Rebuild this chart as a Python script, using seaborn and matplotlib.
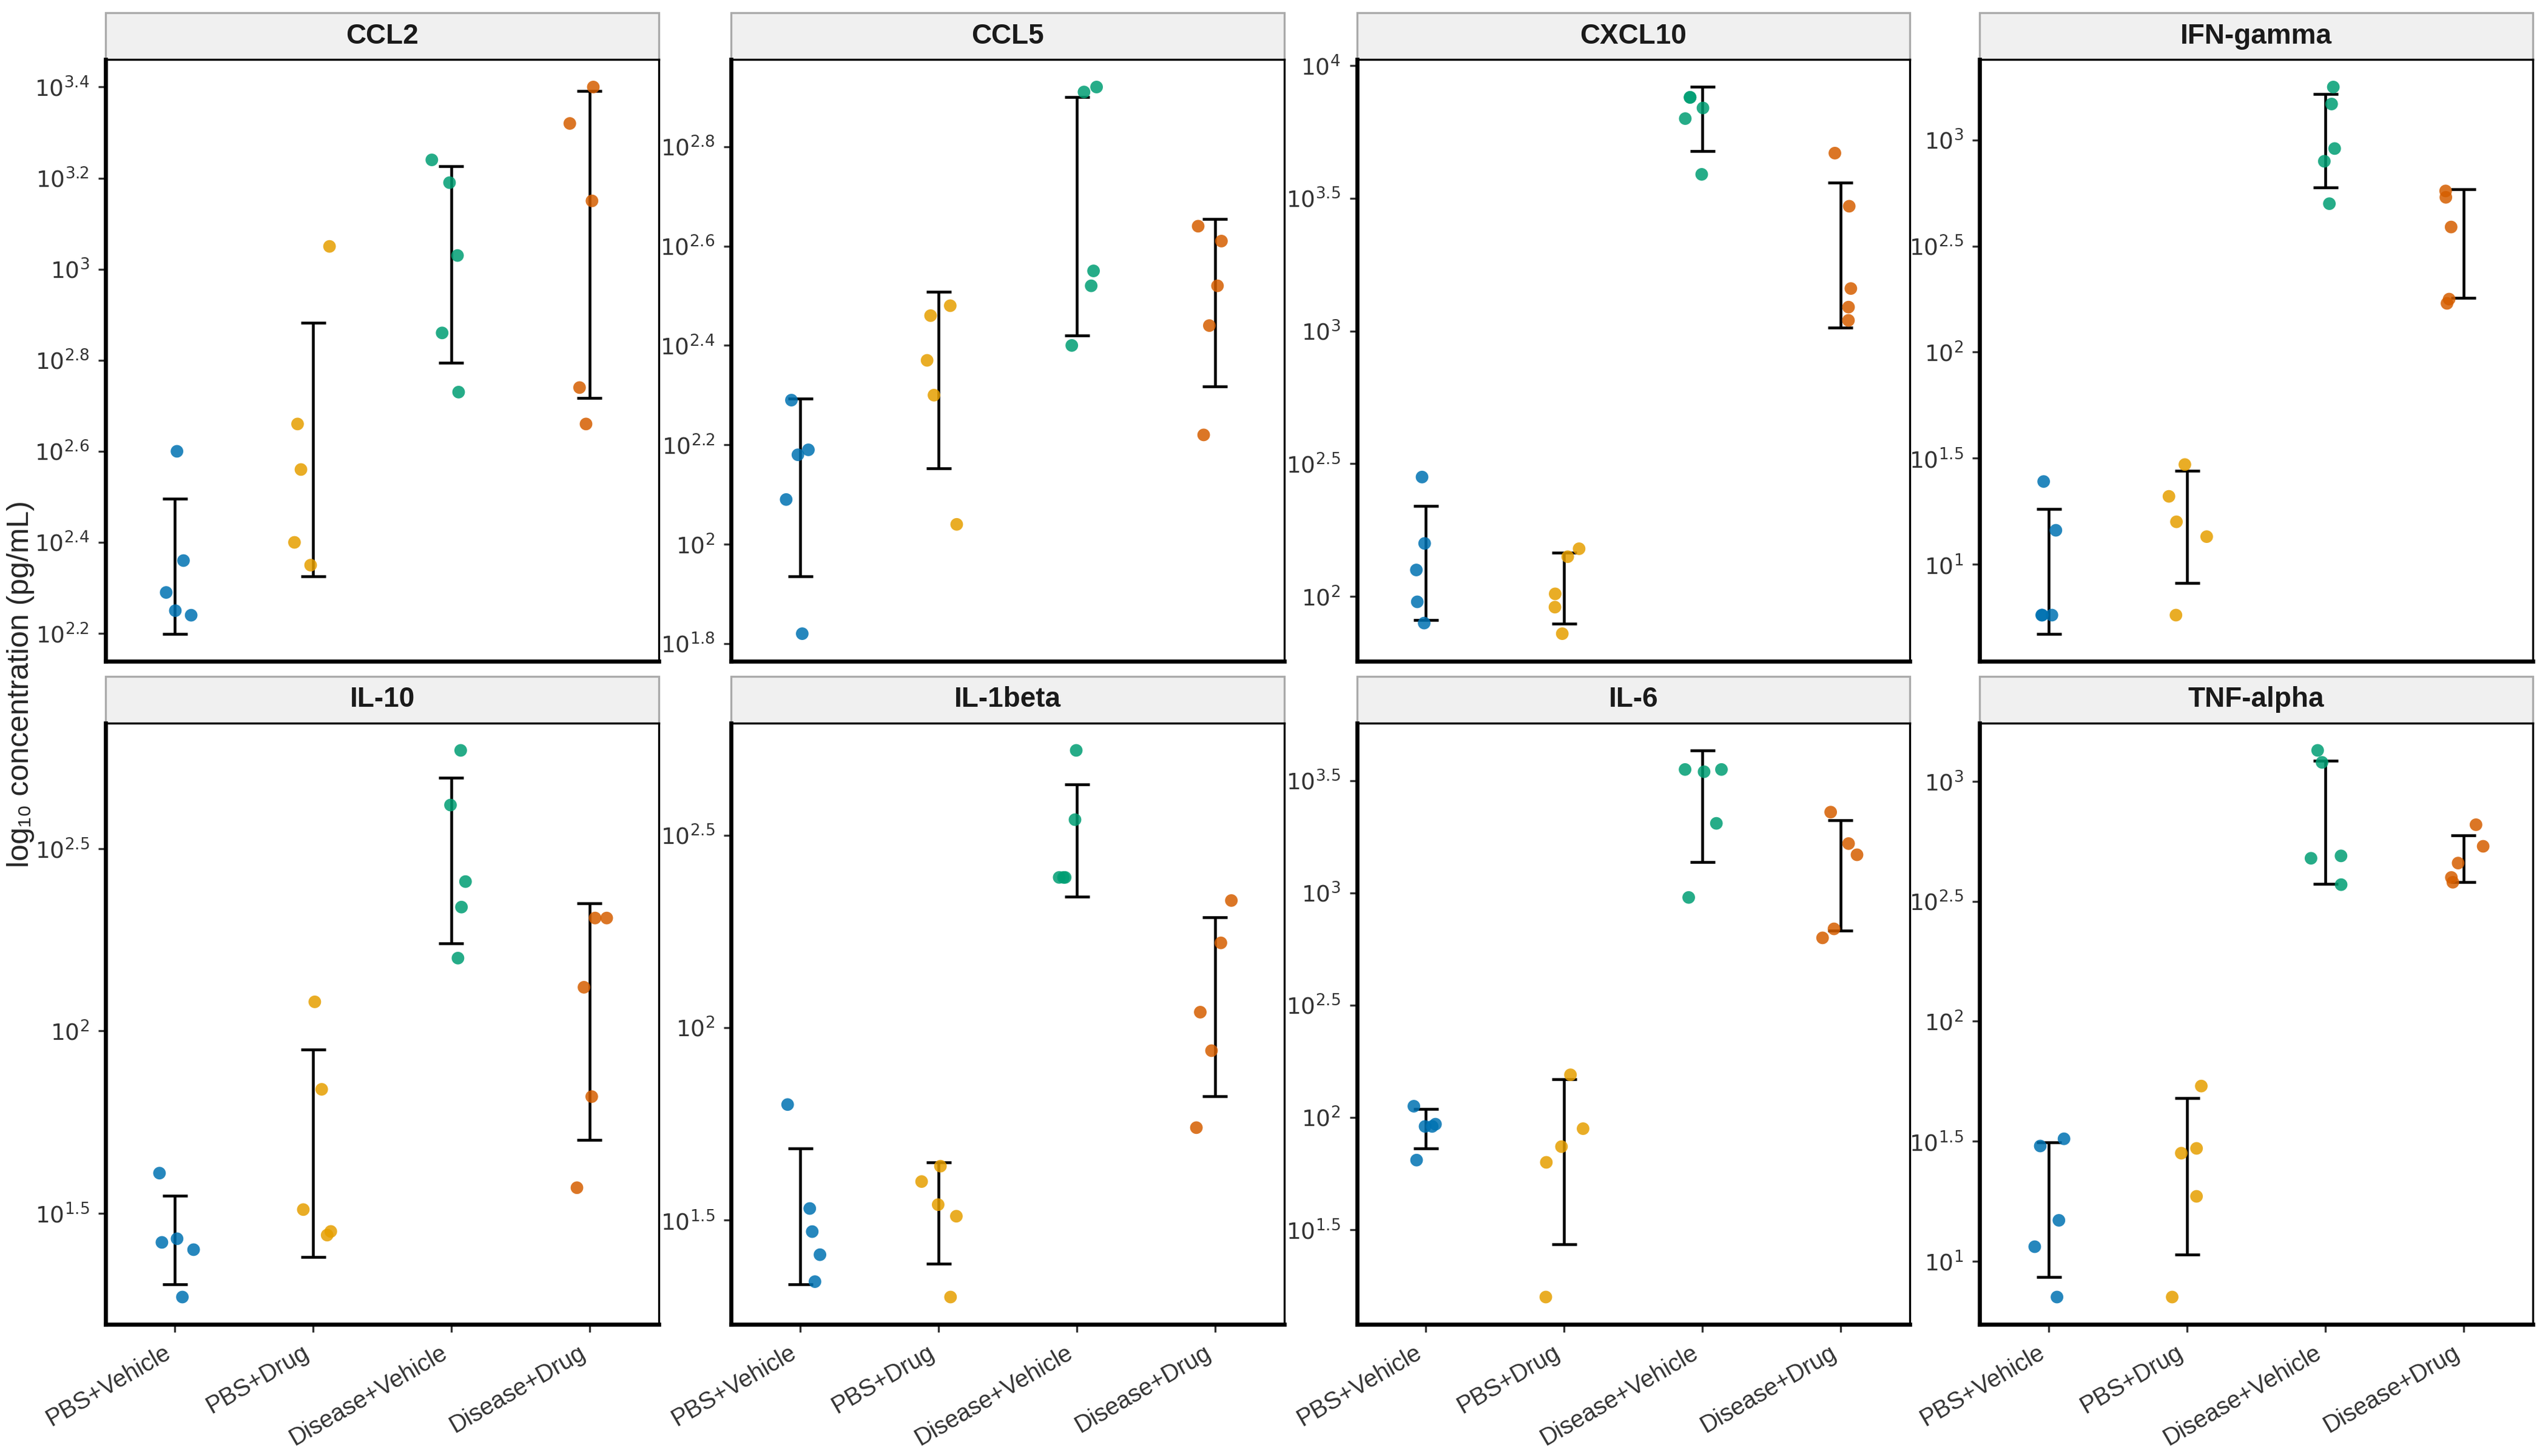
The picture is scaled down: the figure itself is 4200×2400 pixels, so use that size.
import numpy as np
import pandas as pd
import matplotlib
matplotlib.use("Agg")
import matplotlib.pyplot as plt
from matplotlib.patches import Rectangle
from matplotlib.ticker import FixedLocator, NullLocator
import seaborn as sns

GROUPS = ["PBS+Vehicle", "PBS+Drug", "Disease+Vehicle", "Disease+Drug"]
COLORS = ["#0072B2", "#E69F00", "#009E73", "#D55E00"]
CYTOKINES = ["CCL2", "CCL5", "CXCL10", "IFN-gamma", "IL-10", "IL-1beta", "IL-6", "TNF-alpha"]

# log10 concentrations, 5 animals per group
ccl2 = [[2.60, 2.36, 2.29, 2.25, 2.24], [3.05, 2.66, 2.56, 2.40, 2.35],
        [3.24, 3.19, 3.03, 2.86, 2.73], [3.40, 3.32, 3.15, 2.74, 2.66]]
ccl5 = [[2.29, 2.19, 2.18, 2.09, 1.82], [2.48, 2.46, 2.37, 2.30, 2.04],
        [2.92, 2.91, 2.55, 2.52, 2.40], [2.64, 2.61, 2.52, 2.44, 2.22]]
cxcl10 = [[2.45, 2.20, 2.10, 1.98, 1.90], [2.18, 2.15, 2.01, 1.96, 1.86],
          [3.88, 3.88, 3.84, 3.80, 3.59], [3.67, 3.47, 3.16, 3.09, 3.04]]
ifng = [[1.39, 1.16, 0.76, 0.76, 0.76], [1.47, 1.32, 1.20, 1.13, 0.76],
        [3.25, 3.17, 2.96, 2.90, 2.70], [2.76, 2.73, 2.59, 2.25, 2.23]]
il10 = [[1.61, 1.43, 1.42, 1.40, 1.27], [2.08, 1.84, 1.51, 1.45, 1.44],
        [2.77, 2.62, 2.41, 2.34, 2.20], [2.31, 2.31, 2.12, 1.82, 1.57]]
il1b = [[1.80, 1.53, 1.47, 1.41, 1.34], [1.64, 1.60, 1.54, 1.51, 1.30],
        [2.72, 2.54, 2.39, 2.39, 2.39], [2.33, 2.22, 2.04, 1.94, 1.74]]
il6 = [[2.05, 1.97, 1.96, 1.96, 1.81], [2.19, 1.95, 1.87, 1.80, 1.20],
       [3.55, 3.55, 3.54, 3.31, 2.98], [3.36, 3.22, 3.17, 2.84, 2.80]]
tnfa = [[1.51, 1.48, 1.17, 1.06, 0.85], [1.73, 1.47, 1.45, 1.27, 0.85],
        [3.13, 3.08, 2.69, 2.68, 2.57], [2.82, 2.73, 2.66, 2.60, 2.58]]
ALL = [ccl2, ccl5, cxcl10, ifng, il10, il1b, il6, tnfa]

rows = []
for cyt, data in zip(CYTOKINES, ALL):
    for g, vals in zip(GROUPS, data):
        for v in vals:
            rows.append({"cytokine": cyt, "group": g, "conc": 10 ** v, "lg": v})
df = pd.DataFrame(rows)


def fmt_exp(k):
    s = f"{k:.1f}".rstrip("0").rstrip(".")
    return rf"$10^{{{s}}}$"


sns.set_style("white")
plt.rcParams["font.family"] = ["Liberation Sans", "DejaVu Sans"]
np.random.seed(3)

fig = plt.figure(figsize=(14, 8), dpi=300)
lefts = [0.0415, 0.287, 0.5325, 0.777]
bottoms = [0.546, 0.0904]
W, H = 0.217, 0.413

for i, cyt in enumerate(CYTOKINES):
    ax = fig.add_axes([lefts[i % 4], bottoms[i // 4], W, H])
    sub = df[df.cytokine == cyt]
    sns.stripplot(data=sub, x="group", y="conc", hue="group", order=GROUPS,
                  hue_order=GROUPS, palette=COLORS, jitter=0.15, size=5,
                  alpha=0.85, legend=False, ax=ax, log_scale=True)
    # mean +/- SD on the log10 scale
    stats = sub.groupby("group")["lg"].agg(["mean", "std"]).reindex(GROUPS)
    lo = stats["mean"] - stats["std"]
    hi = stats["mean"] + stats["std"]
    ax.vlines(range(4), 10 ** lo, 10 ** hi, color="black", linewidth=1.1)
    ax.hlines(10 ** lo, np.arange(4) - 0.09, np.arange(4) + 0.09, color="black", linewidth=1.1)
    ax.hlines(10 ** hi, np.arange(4) - 0.09, np.arange(4) + 0.09, color="black", linewidth=1.1)

    lvals = np.concatenate([sub["lg"].values, lo.values, hi.values])
    ymin, ymax = lvals.min(), lvals.max()
    pad = 0.05 * (ymax - ymin)
    ax.set_ylim(10 ** (ymin - pad), 10 ** (ymax + pad))
    step = 0.2 if (ymax - ymin) < 1.25 else 0.5
    ks = np.arange(np.ceil((ymin - pad) / step) * step, ymax + pad + 1e-9, step)
    ax.yaxis.set_major_locator(FixedLocator(10 ** ks))
    ax.yaxis.set_minor_locator(NullLocator())
    ax.set_yticklabels([fmt_exp(k) for k in ks], fontsize=9, color="#333333")
    ax.set_xlim(-0.5, 3.5)
    ax.set_xlabel("")
    ax.set_ylabel("")
    ax.tick_params(axis="both", length=3, color="#333333", left=True, bottom=True)
    for name, sp in ax.spines.items():
        sp.set_color("black")
        sp.set_linewidth(1.6 if name in ("left", "bottom") else 0.8)
    if i >= 4:
        ax.set_xticks(range(4))
        ax.set_xticklabels(GROUPS, rotation=30, ha="right", fontsize=9.5, color="#333333")
    else:
        ax.set_xticklabels([])
        ax.tick_params(axis="x", length=0)
    strip = Rectangle((0, 1), 1, 0.078, transform=ax.transAxes, clip_on=False,
                      facecolor="#F0F0F0", edgecolor="#AAAAAA", linewidth=0.8)
    ax.add_patch(strip)
    ax.text(0.5, 1.039, cyt, transform=ax.transAxes, ha="center", va="center",
            fontsize=11, fontweight="bold", color="#1A1A1A")

fig.text(0.008, 0.53, "log\u2081\u2080 concentration (pg/mL)", rotation=90,
         ha="center", va="center", fontsize=12)

fig.savefig("out.png", dpi=300)
